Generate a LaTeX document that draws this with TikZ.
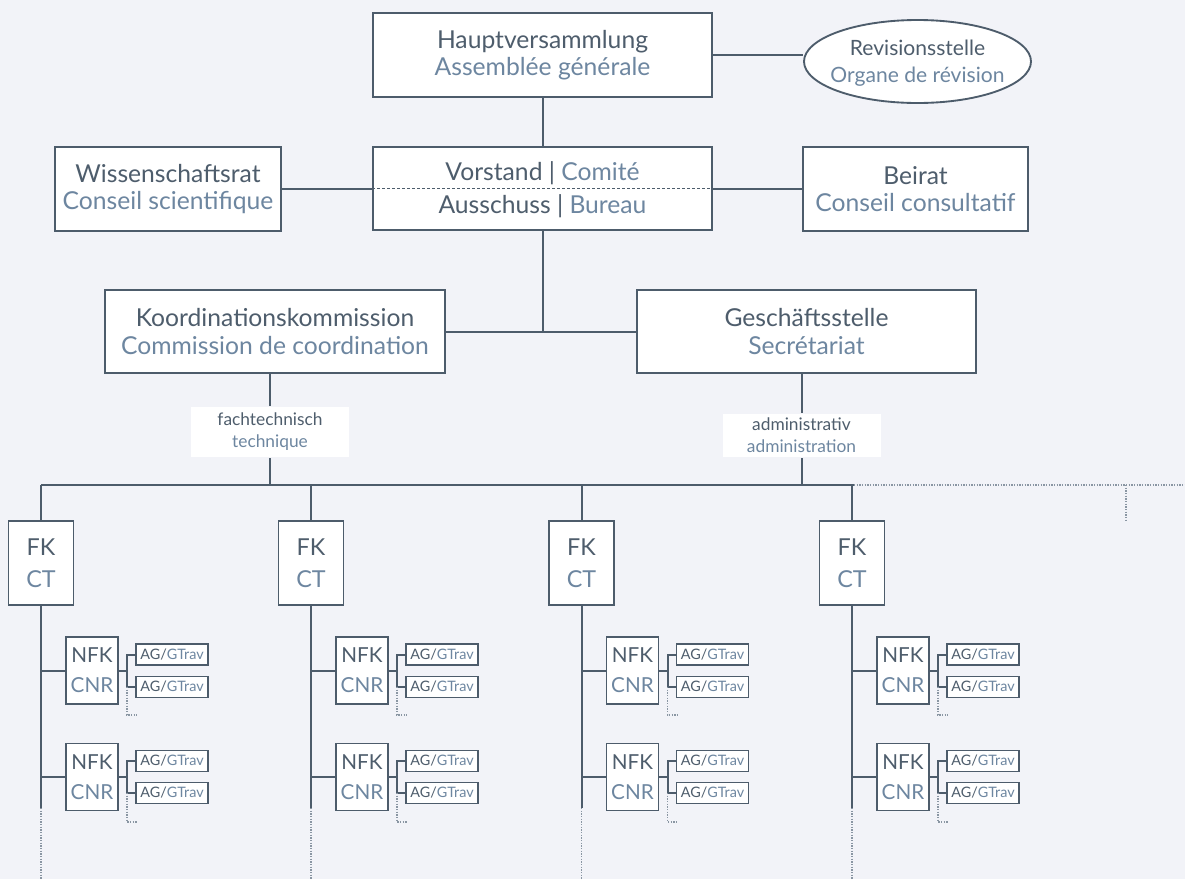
\documentclass[tikz,border=0pt]{standalone}
\usepackage{fontspec}
\setmainfont{Lato}
\usetikzlibrary{shapes.geometric}
\definecolor{bg}{HTML}{F2F3F8}
\definecolor{ln}{HTML}{4D5C6B}
\definecolor{tdark}{HTML}{4E5D6C}
\definecolor{tlight}{HTML}{6D86A0}
\definecolor{dotc}{HTML}{8A96A3}
\newcommand{\lt}[1]{\textcolor{tlight}{#1}}
\begin{document}
\begin{tikzpicture}[x=0.75pt,y=-0.75pt, line width=1.5pt, draw=ln,
  wh/.style 2 args={minimum width=#1*0.75pt, minimum height=#2*0.75pt},
  bx/.style={draw=ln, line width=1.4pt, fill=white, inner sep=0pt, align=center, text=tdark},
  mainf/.style={font=\fontsize{18.5}{20.5}\selectfont},
  revf/.style={font=\fontsize{15.8}{20.25}\selectfont},
  lbl/.style={fill=white, inner sep=0pt, align=center, text=tdark, font=\fontsize{13}{16.5}\selectfont},
  fkbox/.style={bx, wh={65}{84}, font=\fontsize{17.5}{24}\selectfont},
  nfkbox/.style={bx, wh={52}{67}, font=\fontsize{15.5}{22.5}\selectfont},
  agbox/.style={bx, wh={72}{21}, font=\fontsize{10.8}{13}\selectfont},
  dotl/.style={draw=dotc, line width=1pt, dash pattern=on 1pt off 1pt},
  dashl/.style={draw=ln, line width=1pt, dash pattern=on 2.25pt off 1.5pt}]
\useasboundingbox (0,0) rectangle (1185,879);
\fill[bg] (0,0) rectangle (1185,879);

% top level
\node[bx, mainf, wh={339}{84}] (hv) at (542.5,55) {Hauptversammlung\\\lt{Assemblée générale}};
\node[bx, ellipse, wh={227}{83}] (rev) at (917.5,61.5) {};
\node[revf, align=center, text=tdark, inner sep=0pt] (revt) at (917.5,63) {Revisionsstelle\\\lt{Organe de révision}};
\node[bx, wh={339}{83}] (vor) at (542.5,188.5) {};
\node[bx, mainf, wh={226}{84}] (wis) at (168,189) {Wissenschaftsrat\\\lt{Conseil scientifique}};
\node[bx, mainf, wh={225}{84}] (bei) at (915.5,189) {Beirat\\\lt{Conseil consultatif}};
\draw[dashl] (vor.west) -- (vor.east);
\node[anchor=base, mainf, text=tdark, inner sep=0pt] (vortop) at (542.5,180) {Vorstand | \lt{Comité}};
\node[anchor=base, mainf, text=tdark, inner sep=0pt] (vorbot) at (542.5,213) {Ausschuss | \lt{Bureau}};

\node[bx, mainf, wh={340}{83}] (koo) at (275,331.5) {Koordinationskommission\\\lt{Commission de coordination}};
\node[bx, mainf, wh={339}{83}] (ges) at (806.5,331.5) {Geschäftsstelle\\\lt{Secrétariat}};

\node[lbl, wh={158}{50}] (fach) at (270,432) {fachtechnisch\\\lt{technique}};
\node[lbl, wh={158}{43}] (adm) at (801.5,435.5) {administrativ\\\lt{administration}};

\draw (hv.south) -- (vor.north);
\draw (hv.east) -- (hv.east -| rev.west);
\draw (wis.east) -- (wis.east -| vor.west);
\draw (vor.east) -- (vor.east -| bei.west);
\draw (vor.south) -- (vor.south |- koo.east);
\draw (koo.east) -- (koo.east -| ges.west);

\coordinate (busL) at (41,485);
\coordinate (busM) at (854,485);
\coordinate (busR) at (1185,485);
\coordinate (stubT) at (1126,485);
\coordinate (stubB) at (1126,521);
\draw (fach.north |- koo.south) -- (fach.north);
\draw (fach.south) -- (fach.south |- busL);
\draw (adm.north |- ges.south) -- (adm.north);
\draw (adm.south) -- (adm.south |- busL);
\draw (busL) -- (busM);
\draw[dotl] (busM) -- (busR);
\draw[dotl] (stubT) -- (stubB);

\foreach \i/\x in {1/41,2/311,3/581.5,4/852}{
  \node[fkbox] (fk\i) at (\x,563) {FK\\\lt{CT}};
  \draw (fk\i.north) -- (fk\i.north |- busL);
  \coordinate (fkend\i) at (\x,808);
  \coordinate (fkbot\i) at (\x,879);
  \draw (fk\i.south) -- (fkend\i);
  \draw[dotl] (fkend\i) -- (fkbot\i);
  \foreach \j/\y/\ya/\yb/\yd in {a/670.5/654.5/687/715, b/777/761/793/822}{
    \node[nfkbox] (nfk\i\j) at (\x+51,\y) {NFK\\\lt{CNR}};
    \draw (nfk\i\j.west) -- (nfk\i\j.west -| fk\i.south);
    \coordinate (br\i\j) at (\x+86,\y);
    \coordinate (brd\i\j) at (\x+86,\yd);
    \coordinate (bre\i\j) at (\x+96,\yd);
    \node[agbox] (ag\i\j1) at (\x+131,\ya) {AG/\lt{GTrav}};
    \node[agbox] (ag\i\j2) at (\x+131,\yb) {AG/\lt{GTrav}};
    \draw (nfk\i\j.east) -- (br\i\j);
    \draw (ag\i\j1.west) -| (br\i\j) |- (ag\i\j2.west);
    \draw[dotl] (br\i\j |- ag\i\j2.west) -- (brd\i\j) -- (bre\i\j);
  }
}
\end{tikzpicture}
\end{document}
